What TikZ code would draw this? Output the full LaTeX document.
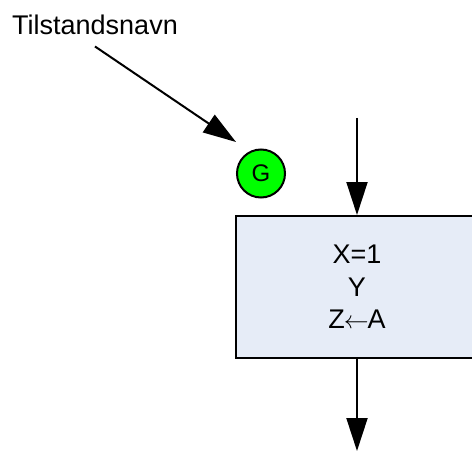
\documentclass[tikz,border=0pt]{standalone}
\usepackage{fontspec}
\setmainfont{Liberation Sans}
\usetikzlibrary{arrows.meta}
\definecolor{boxfill}{HTML}{E6ECF7}
\definecolor{stategreen}{HTML}{00FF00}
\tikzset{
  conn/.style={line width=2pt, -{Triangle[length=33pt,width=21pt]}},
  bigtext/.style={font=\fontsize{27}{32.5}\selectfont},
  actionbox/.style={draw, line width=2pt, fill=boxfill, minimum width=242pt,
    minimum height=142pt, align=center, bigtext},
  statecircle/.style={circle, draw, line width=2pt, fill=stategreen,
    minimum size=48pt, inner sep=0pt, font=\fontsize{24}{26}\selectfont}
}
\begin{document}
\begin{tikzpicture}[x=1pt,y=-1pt]
  \useasboundingbox (0,0) rectangle (472,452);
  \clip (0,0) rectangle (472,452);
  % state name label pointing at the state marker
  \node[bigtext, anchor=base west, inner sep=0pt] (lbl) at (12,35) {Tilstandsnavn};
  \coordinate (gtip) at (236,142);
  \draw[conn] ([yshift=-11pt]lbl.south) -- (gtip);
  % state marker
  \node[statecircle] (g) at (261,173.5) {G};
  % action box with incoming and outgoing flow
  \node[actionbox] (box) at (357,287) {X=1\\Y\\Z\kern-1pt$\leftarrow$\kern-1ptA};
  \coordinate (in) at (357,118);
  \coordinate (out) at (357,451);
  \draw[conn] (in) -- (box.north);
  \draw[conn] (box.south) -- (out);
\end{tikzpicture}
\end{document}
